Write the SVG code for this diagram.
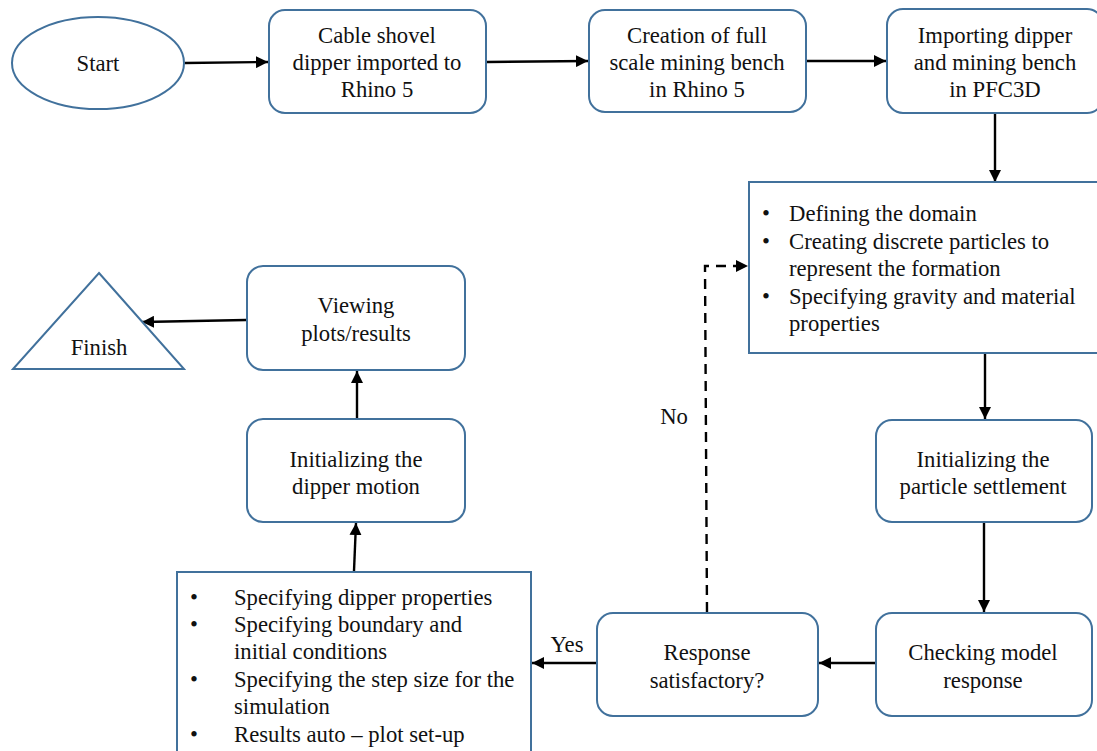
<svg xmlns="http://www.w3.org/2000/svg" width="1097" height="751" viewBox="0 0 1097 751">
  <style>
    .node { fill: #ffffff; stroke: #41719c; stroke-width: 2; }
    .lbl { font-family: "Liberation Serif", "Times New Roman", serif; font-size: 22.7px; fill: #111111; }
    .c { text-anchor: middle; }
    .edge { fill: none; stroke: #000000; stroke-width: 2.4; }
    .dash { stroke-dasharray: 10 7; }
  </style>
  <defs>
    <marker id="arrow" viewBox="0 0 10 10" refX="10" refY="5" markerWidth="5" markerHeight="5" markerUnits="strokeWidth" orient="auto">
      <path d="M0,0 L10,5 L0,10 z" fill="#000000"/>
    </marker>
  </defs>
  <rect width="1097" height="751" fill="#ffffff"/>

  <g id="connectors">
    <line class="edge" x1="185" y1="63" x2="268" y2="62" marker-end="url(#arrow)"/>
    <line class="edge" x1="487" y1="62" x2="588" y2="61" marker-end="url(#arrow)"/>
    <line class="edge" x1="807" y1="61" x2="886" y2="61" marker-end="url(#arrow)"/>
    <line class="edge" x1="995" y1="114" x2="995" y2="182" marker-end="url(#arrow)"/>
    <line class="edge" x1="985" y1="354" x2="985" y2="419" marker-end="url(#arrow)"/>
    <line class="edge" x1="984" y1="523" x2="984" y2="612" marker-end="url(#arrow)"/>
    <line class="edge" x1="875" y1="663" x2="819" y2="663" marker-end="url(#arrow)"/>
    <line class="edge" x1="596" y1="663" x2="532" y2="663" marker-end="url(#arrow)"/>
    <polyline class="edge dash" points="707,612 705,266 748,266" marker-end="url(#arrow)"/>
    <line class="edge" x1="354" y1="571" x2="356" y2="523" marker-end="url(#arrow)"/>
    <line class="edge" x1="357" y1="418" x2="357" y2="371" marker-end="url(#arrow)"/>
    <line class="edge" x1="246" y1="320" x2="142" y2="322" marker-end="url(#arrow)"/>
    <text class="lbl c" x="567" y="652">Yes</text>
    <text class="lbl c" x="674" y="424">No</text>
  </g>

  <g id="start">
    <ellipse class="node" cx="98" cy="63" rx="86" ry="46"/>
    <text class="lbl c" x="98" y="71">Start</text>
  </g>

  <g id="import-dipper">
    <rect class="node" x="269" y="10" width="217" height="103" rx="16"/>
    <text class="lbl c" x="377" y="43">Cable shovel</text>
    <text class="lbl c" x="377" y="70">dipper imported to</text>
    <text class="lbl c" x="377" y="97">Rhino 5</text>
  </g>

  <g id="create-bench">
    <rect class="node" x="589" y="10" width="217" height="102" rx="16"/>
    <text class="lbl c" x="697" y="43">Creation of full</text>
    <text class="lbl c" x="697" y="70">scale mining bench</text>
    <text class="lbl c" x="697" y="97">in Rhino 5</text>
  </g>

  <g id="import-pfc">
    <rect class="node" x="887" y="9" width="216" height="104" rx="16"/>
    <text class="lbl c" x="995" y="43">Importing dipper</text>
    <text class="lbl c" x="995" y="70">and mining bench</text>
    <text class="lbl c" x="995" y="97">in PFC3D</text>
  </g>

  <g id="domain-setup">
    <rect class="node" x="749" y="182" width="360" height="171"/>
    <text class="lbl" x="762" y="221">•</text>
    <text class="lbl" x="789" y="221">Defining the domain</text>
    <text class="lbl" x="762" y="249">•</text>
    <text class="lbl" x="789" y="249">Creating discrete particles to</text>
    <text class="lbl" x="789" y="276">represent the formation</text>
    <text class="lbl" x="762" y="304">•</text>
    <text class="lbl" x="789" y="304">Specifying gravity and material</text>
    <text class="lbl" x="789" y="331">properties</text>
  </g>

  <g id="particle-settlement">
    <rect class="node" x="876" y="420" width="216" height="102" rx="16"/>
    <text class="lbl c" x="983" y="467">Initializing  the</text>
    <text class="lbl c" x="983" y="494">particle settlement</text>
  </g>

  <g id="check-response">
    <rect class="node" x="876" y="613" width="216" height="103" rx="16"/>
    <text class="lbl c" x="983" y="660">Checking model</text>
    <text class="lbl c" x="983" y="688">response</text>
  </g>

  <g id="decision">
    <rect class="node" x="597" y="613" width="221" height="103" rx="16"/>
    <text class="lbl c" x="707" y="660">Response</text>
    <text class="lbl c" x="707" y="688">satisfactory?</text>
  </g>

  <g id="dipper-setup">
    <rect class="node" x="177" y="572" width="354" height="190"/>
    <text class="lbl" x="190" y="605">•</text>
    <text class="lbl" x="234" y="605">Specifying dipper properties</text>
    <text class="lbl" x="190" y="632">•</text>
    <text class="lbl" x="234" y="632">Specifying boundary and</text>
    <text class="lbl" x="234" y="659">initial  conditions</text>
    <text class="lbl" x="190" y="687">•</text>
    <text class="lbl" x="234" y="687">Specifying the step size for the</text>
    <text class="lbl" x="234" y="714">simulation</text>
    <text class="lbl" x="190" y="742">•</text>
    <text class="lbl" x="234" y="742">Results auto – plot set-up</text>
  </g>

  <g id="dipper-motion">
    <rect class="node" x="247" y="419" width="218" height="103" rx="16"/>
    <text class="lbl c" x="356" y="467">Initializing  the</text>
    <text class="lbl c" x="356" y="494">dipper motion</text>
  </g>

  <g id="view-results">
    <rect class="node" x="247" y="266" width="218" height="104" rx="16"/>
    <text class="lbl c" x="356" y="313">Viewing</text>
    <text class="lbl c" x="356" y="341">plots/results</text>
  </g>

  <g id="finish">
    <polygon class="node" points="99,273 184,369 13,369"/>
    <text class="lbl c" x="99" y="355">Finish</text>
  </g>
</svg>
